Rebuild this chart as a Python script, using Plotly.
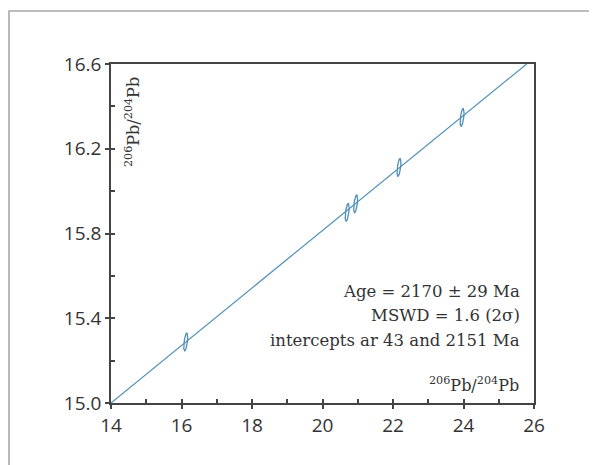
import numpy as np
import plotly.graph_objects as go

# Data
pb206_204 = [16.12, 20.70, 20.94, 22.17, 23.96]
pb207_204 = [15.288, 15.900, 15.940, 16.112, 16.348]
x_err = [0.055, 0.055, 0.055, 0.055, 0.055]   # 2 sigma
y_err = [0.042, 0.042, 0.042, 0.042, 0.042]   # 2 sigma
rho = [0.55, 0.55, 0.55, 0.55, 0.55]
iso_x = [14.0, 25.79]
iso_y = [15.0, 16.6]
x_ticks = [14, 16, 18, 20, 22, 24, 26]
y_ticks = [15.0, 15.4, 15.8, 16.2, 16.6]
stats_text = ["Age = 2170 ± 29 Ma", "MSWD = 1.6 (2σ)", "intercepts ar 43 and 2151 Ma"]

LINE = "#4f8fba"
AX = "#444444"
TXT = "#333333"
SANS = "Open Sans"
SERIF = "DejaVu Serif"

fig = go.Figure()
fig.add_trace(go.Scatter(x=iso_x, y=iso_y, mode="lines",
                         line=dict(color=LINE, width=1.2), showlegend=False, hoverinfo="skip"))

t = np.linspace(0, 2 * np.pi, 60)
for cx, cy, sx, sy, r in zip(pb206_204, pb207_204, x_err, y_err, rho):
    cov = np.array([[sx * sx, r * sx * sy], [r * sx * sy, sy * sy]])
    L = np.linalg.cholesky(cov)
    pts = L @ np.vstack([np.cos(t), np.sin(t)])
    fig.add_trace(go.Scatter(x=cx + pts[0], y=cy + pts[1], mode="lines",
                             line=dict(color=LINE, width=1.3), showlegend=False, hoverinfo="skip"))

# invisible trace on overlay axes
fig.add_trace(go.Scatter(x=[14], y=[15], xaxis="x2", yaxis="y2", mode="markers",
                         marker=dict(opacity=0), showlegend=False, hoverinfo="skip"))

# page has an 8px body margin; plot area spans page x 111..534, y 64..403
fig.update_layout(
    width=589, height=457,
    margin=dict(l=103, r=63, t=56, b=62),
    paper_bgcolor="white", plot_bgcolor="white",
    xaxis=dict(range=[14, 26], tickvals=x_ticks, ticktext=[str(v) for v in x_ticks],
               ticks="outside", ticklen=4, tickwidth=1.5, tickcolor=AX,
               showline=True, linecolor=AX, linewidth=1.5, mirror=True,
               showgrid=False, zeroline=False, ticklabelstandoff=0,
               tickfont=dict(family=SANS, size=19, color=TXT)),
    yaxis=dict(range=[15.0, 16.6], tickvals=y_ticks, ticktext=[f"{v:.1f}" for v in y_ticks],
               ticks="outside", ticklen=4, tickwidth=1.5, tickcolor=AX,
               showline=True, linecolor=AX, linewidth=1.5, mirror=True,
               showgrid=False, zeroline=False, ticklabelstandoff=0,
               tickfont=dict(family=SANS, size=19, color=TXT)),
    xaxis2=dict(range=[14, 26], overlaying="x", matches="x", dtick=1, tick0=14,
                ticks="inside", ticklen=4, tickwidth=1.5, tickcolor=AX,
                showticklabels=False, showline=False, showgrid=False, zeroline=False),
    yaxis2=dict(range=[15.0, 16.6], overlaying="y", matches="y", dtick=0.2, tick0=15.0,
                ticks="inside", ticklen=4, tickwidth=1.5, tickcolor=AX,
                showticklabels=False, showline=False, showgrid=False, zeroline=False),
    shapes=[dict(type="rect", xref="paper", yref="paper",
                 x0=(9 - 111) / 423, x1=(620 - 111) / 423,
                 y0=(403 - 490) / 339, y1=(403 - 11) / 339,
                 line=dict(color="#a8a8a8", width=1.6), layer="below")],
)

fig.add_annotation(xref="paper", yref="paper", x=(521 - 111) / 423, y=(403 - 384) / 339,
                   text="<sup>206</sup>Pb/<sup>204</sup>Pb", showarrow=False,
                   xanchor="right", yanchor="middle",
                   font=dict(family=SERIF, size=16, color=TXT))
fig.add_annotation(xref="paper", yref="paper", x=(132 - 111) / 423, y=(403 - 122) / 339,
                   text="<sup>206</sup>Pb/<sup>204</sup>Pb", showarrow=False, textangle=-90,
                   xanchor="center", yanchor="middle",
                   font=dict(family=SERIF, size=16, color=TXT))
for i, (s, yy) in enumerate(zip(stats_text, [291, 315.5, 340])):
    fig.add_annotation(xref="paper", yref="paper", x=(522 - 111) / 423, y=(403 - yy) / 339,
                       text=s, showarrow=False, xanchor="right", yanchor="middle",
                       font=dict(family=SERIF, size=16.5, color=TXT))

fig.write_html("out.html")
